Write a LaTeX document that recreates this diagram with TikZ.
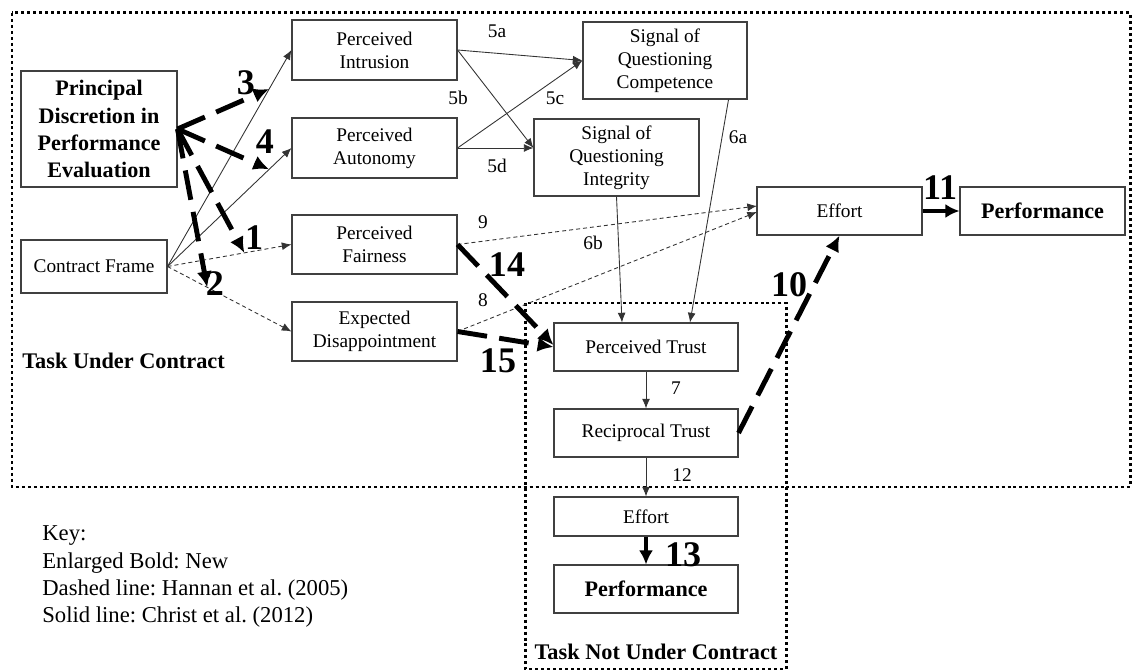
\documentclass[tikz,border=0pt]{standalone}
\usepackage{fontspec}
\setmainfont{Liberation Serif}
\usetikzlibrary{arrows.meta,calc}
\frenchspacing
\begin{document}
\begin{tikzpicture}[x=0.02cm,y=-0.02cm,
 wh/.style 2 args={minimum width={#1*0.02cm}, minimum height={#2*0.02cm}},
 box/.style={draw=black!75, line width=0.6pt, align=center, inner sep=0pt, font=\fontsize{11}{13.1}\selectfont},
 bbox/.style={box, font=\fontsize{12.6}{15.4}\selectfont\bfseries},
 thin/.style={draw=black!80, line width=0.5pt, -{Latex[length=5.5pt,width=4.5pt]}},
 thindash/.style={thin, dash pattern=on 2.3pt off 1.7pt},
 bolddash/.style={line width=2.8pt, dash pattern=on 17pt off 7pt, -{Latex[length=9pt,width=8.5pt]}},
 boldsolid/.style={line width=2.8pt, -{Latex[length=8pt,width=8pt]}},
 num/.style={font=\fontsize{20.5}{20.5}\selectfont\bfseries, inner sep=0pt},
 lab/.style={font=\fontsize{11}{13}\selectfont, inner sep=0pt},
 keytxt/.style={font=\fontsize{12.9}{15.4}\selectfont, inner sep=0pt, anchor=west},
 region/.style={line width=1.7pt, dash pattern=on 1.7pt off 1.7pt},
 regionlab/.style={font=\fontsize{12.7}{15}\selectfont\bfseries, inner sep=0pt}
]
\useasboundingbox (0,0) rectangle (1135,671);

% regions
\draw[region] (12,13) rectangle (1130,487);
\draw[region] (525,303) rectangle (786,669);

% boxes
\node[bbox, wh={156}{116}] (pde) at (99,129) {Principal\\Discretion in\\Performance\\Evaluation};
\node[box, wh={146}{53}] (cf) at (94,266.5) {Contract Frame};
\node[box, wh={165}{60}] (pi) at (374.5,50) {Perceived\\Intrusion};
\node[box, wh={165}{60}] (pa) at (374.5,148) {Perceived\\Autonomy};
\node[box, wh={165}{59}] (pf) at (374.5,244.5) {Perceived\\Fairness};
\node[box, wh={165}{59}] (ed) at (374.5,331.5) {Expected\\Disappointment};
\node[box, wh={164}{77}] (sqc) at (665,60.5) {Signal of\\Questioning\\Competence};
\node[box, wh={165}{77}] (sqi) at (616.5,157.5) {Signal of\\Questioning\\Integrity};
\node[box, wh={165}{48}] (eff) at (839.5,211) {Effort};
\node[bbox, wh={165}{48}] (perf) at (1042.5,211) {Performance};
\node[box, wh={184}{48}] (pt) at (646,347) {Perceived Trust};
\node[box, wh={184}{48}] (rt) at (646,433) {Reciprocal Trust};
\node[box, wh={184}{39}] (eff2) at (646,516.5) {Effort};
\node[bbox, wh={184}{48}] (perf2) at (646,589) {Performance};

% region labels
\node[regionlab, anchor=west] (tuc) at (22,361) {Task Under Contract};
\node[regionlab] (tnuc) at (656,652) {Task Not Under Contract};

% key
\node[keytxt] (k1) at (42,536) {Key:};
\node[keytxt] (k2) at (42,563) {Enlarged Bold: New};
\node[keytxt] (k3) at (42,590) {Dashed line: Hannan et al. (2005)};
\node[keytxt] (k4) at (42,617) {Solid line: Christ et al. (2012)};

% contract frame arrows
\draw[thin] (cf.east) -- coordinate[pos=0.82] (m3) (pi.west);
\draw[thin] (cf.east) -- coordinate[pos=0.82] (m4) (pa.west);
\draw[thindash] (cf.east) -- coordinate[pos=0.62] (m1) (pf.west);
\draw[thindash] (cf.east) -- coordinate[pos=0.32] (m2) (ed.west);

% moderation arrows
\draw[bolddash] (pde.east) -- (m3);
\draw[bolddash] (pde.east) -- (m4);
\draw[bolddash] (pde.east) -- (m1);
\draw[bolddash] (pde.east) -- (m2);
\node[num] (n3) at (246,83) {3};
\node[num] (n4) at (265,142) {4};
\node[num] (n1) at (254,238) {1};
\node[num] (n2) at (215,284) {2};

% signals
\coordinate (sqiin) at (sqi.west |- pa.east);
\draw[thin] (pi.east) -- (sqc.west);
\draw[thin] (pi.east) -- (sqiin);
\draw[thin] (pa.east) -- (sqc.west);
\draw[thin] (pa.east) -- (sqiin);
\node[lab] (l5a) at (497,31) {5a};
\node[lab] (l5b) at (458,98) {5b};
\node[lab] (l5c) at (555,98) {5c};
\node[lab] (l5d) at (497,166) {5d};

\draw[thin] ($(sqc.south east)+(-19,0)$) -- ($(pt.north)+(44,0)$);
\draw[thin] (sqi.south) -- ($(pt.north)+(-24,0)$);
\node[lab] (l6a) at (738,137) {6a};
\node[lab] (l6b) at (593,243) {6b};

\draw[thin] (pt.south) -- (rt.north);
\node[lab] (l7) at (676,388) {7};
\draw[thin] (rt.south) -- (eff2.north);
\node[lab] (l12) at (682,475) {12};

% hannan dashed to effort
\draw[thindash] (pf.east) -- (757,206);
\draw[thindash] (ed.east) -- (757,212);
\node[lab] (l9) at (483,222) {9};
\node[lab] (l8) at (483,300) {8};

% new bold arrows
\draw[bolddash] (pf.east) -- ($(pt.west)+(0,-2)$);
\draw[bolddash] (ed.east) -- (pt.west);
\node[num] (n14) at (507,265) {14};
\node[num] (n15) at (498,361) {15};

\draw[bolddash] (rt.east) -- (eff.south);
\node[num] (n10) at (789,285) {10};

\draw[boldsolid] (eff.east) -- (perf.west);
\node[num] (n11) at (940,188) {11};

\draw[boldsolid] (eff2.south) -- (perf2.north);
\node[num] (n13) at (683,555) {13};
\end{tikzpicture}
\end{document}
